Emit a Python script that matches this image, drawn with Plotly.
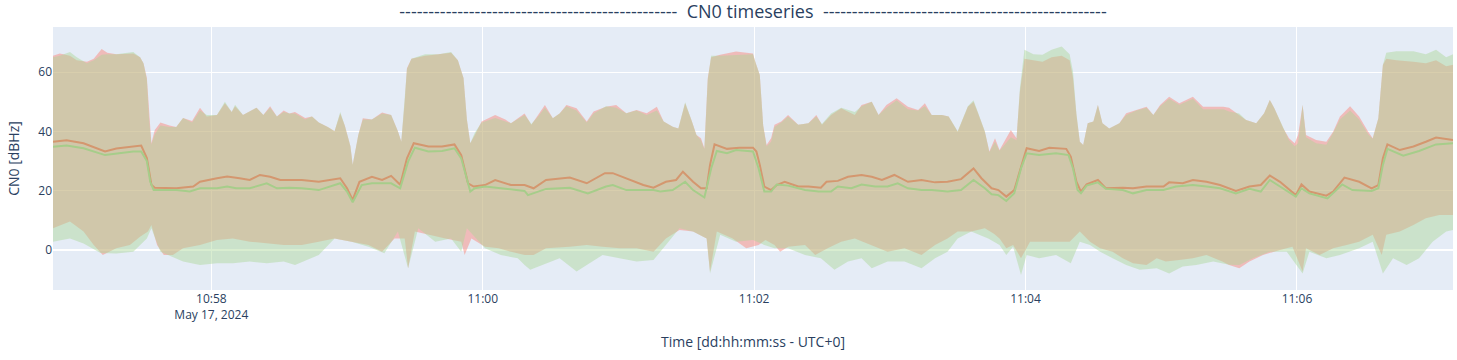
import pandas as pd
import plotly.graph_objects as go

BASE = "2024-05-17 10:56:50"
X_END = "2024-05-17 11:07:09"

# upper envelope: (seconds after BASE, red max, green max)
upper = [
    (0, 65.5, 65.0), (3, 66.3, 65.5), (7.5, 65.5, 66.8), (10.5, 64.0, 65.0), (15, 63.5, 63.0),
    (18, 64.5, 64.0), (21.5, 67.8, 65.8), (24, 66.5, 66.0), (28, 66.0, 66.0), (35.5, 66.3, 66.8),
    (38.5, 65.0, 65.0), (40, 63.0, 63.0), (41.5, 58.0, 57.5), (42.5, 45.0, 44.0), (43.5, 36.0, 35.5),
    (45, 40.5, 39.0), (47.5, 43.0, 42.0), (51.5, 42.0, 41.5), (54.5, 41.5, 41.5), (57.5, 44.5, 44.5),
    (61.5, 43.5, 43.0), (65, 48.0, 47.0), (68, 45.0, 45.5), (72.5, 45.5, 45.5), (76, 49.5, 50.0),
    (79, 46.5, 46.5), (80.5, 48.5, 49.0), (84, 45.5, 45.5), (90, 48.0, 48.0), (93, 45.5, 45.5),
    (96, 48.5, 48.0), (99, 45.0, 45.0), (102, 47.0, 46.5), (104.5, 46.0, 46.0), (107, 46.5, 46.0),
    (111.5, 44.5, 44.0), (114.5, 45.0, 45.0), (117.5, 43.0, 43.0), (121.5, 41.5, 41.5), (124.5, 40.0, 40.0),
    (127, 46.0, 46.5), (129, 42.0, 42.0), (131.5, 35.0, 35.0), (132.5, 28.7, 28.7), (135, 38.8, 38.8),
    (137, 44.4, 44.0), (141, 44.0, 44.0), (145.5, 46.4, 46.0), (149.5, 45.5, 45.5), (152.5, 40.0, 40.0),
    (154, 36.5, 36.5), (155.5, 50.0, 50.0), (156.5, 61.3, 61.0), (158.5, 64.5, 64.5), (164.5, 65.5, 66.0),
    (170.5, 66.0, 66.0), (176, 66.5, 66.8), (179, 64.0, 64.0), (181.5, 58.0, 58.0), (183, 44.0, 44.0),
    (184.5, 36.0, 36.0), (186.5, 38.8, 39.5), (189.5, 43.3, 43.0), (195.5, 45.5, 44.5), (200, 44.0, 43.5),
    (202.5, 42.7, 42.7), (208.5, 46.0, 45.5), (211.5, 42.2, 42.5), (214.5, 45.5, 45.0), (217.5, 48.9, 48.0),
    (221, 44.4, 44.4), (224, 46.0, 46.0), (227, 48.9, 48.5), (231.5, 47.8, 47.0), (236, 43.3, 43.0),
    (239, 46.7, 46.0), (244.5, 48.3, 48.5), (249, 48.9, 48.0), (253.5, 46.1, 46.1), (258, 47.2, 47.0),
    (262.5, 46.1, 45.5), (267, 48.3, 47.0), (270, 43.3, 43.3), (274, 41.6, 41.6), (276.5, 41.0, 41.0),
    (279.5, 49.5, 49.8), (282.5, 43.3, 43.3), (284.5, 38.8, 38.8), (286.5, 37.7, 37.0), (288, 34.3, 34.0),
    (289.5, 57.9, 57.5), (291, 65.0, 65.5), (295, 65.8, 65.5), (302, 66.9, 65.8), (309.5, 66.3, 66.0),
    (310.5, 63.5, 63.5), (312.5, 59.0, 59.0), (314, 42.0, 42.0), (315.5, 35.4, 35.0), (317.5, 37.7, 36.5),
    (319, 42.2, 41.5), (322, 43.3, 43.0), (325, 45.5, 45.0), (329.5, 42.2, 42.2), (334, 42.7, 42.7),
    (337.5, 45.5, 45.0), (340, 42.2, 42.5), (344, 45.5, 46.0), (348.5, 47.8, 48.0), (354.5, 45.5, 46.5),
    (357.5, 48.9, 48.5), (362, 50.0, 50.0), (365, 45.5, 45.5), (368.5, 48.9, 48.0), (373, 51.2, 50.5),
    (378, 48.3, 47.5), (382.5, 47.2, 47.0), (385.5, 49.5, 48.5), (388.5, 45.5, 45.5), (393, 45.5, 45.5),
    (396, 45.0, 45.0), (400, 39.9, 40.0), (404.5, 48.3, 48.5), (407, 50.0, 50.5), (409, 46.1, 46.5),
    (412, 39.9, 40.0), (414, 33.2, 33.0), (416.5, 37.7, 36.5), (418.5, 33.7, 33.5), (421.5, 37.7, 36.0),
    (423.5, 40.5, 38.0), (426, 37.7, 37.0), (427.5, 53.4, 54.5), (429.5, 64.5, 67.5), (433.5, 64.0, 66.0),
    (437.5, 63.5, 65.8), (441.5, 65.0, 67.5), (446, 65.5, 68.6), (449.5, 64.0, 66.0), (451, 58.0, 60.0),
    (452.5, 45.5, 46.0), (454, 36.5, 36.5), (455.5, 35.4, 35.4), (457.5, 42.7, 42.7), (460, 43.3, 43.3),
    (462, 48.9, 48.9), (464, 42.7, 42.7), (467, 41.0, 41.0), (471.5, 42.7, 42.7), (474.5, 46.1, 45.5),
    (479, 47.2, 47.0), (483.5, 48.3, 48.0), (486.5, 45.5, 45.5), (489.5, 48.9, 48.5), (493.5, 51.7, 51.0),
    (498, 49.5, 49.0), (504, 51.7, 51.0), (508.5, 48.3, 47.5), (513, 48.3, 47.5), (517.5, 48.3, 47.5),
    (520, 48.0, 46.7), (524.5, 45.5, 46.0), (527.5, 43.8, 43.8), (532, 42.7, 42.7), (535.5, 46.1, 46.1),
    (538, 50.6, 50.6), (540, 47.8, 47.8), (544, 41.0, 41.0), (546.5, 37.7, 37.0), (549, 36.0, 35.0),
    (550.5, 38.8, 36.0), (552.5, 48.9, 48.9), (554, 38.8, 38.0), (558.5, 37.1, 36.0), (563, 36.5, 35.5),
    (566, 39.9, 39.5), (569, 45.0, 44.0), (573.5, 48.5, 47.0), (577.5, 45.0, 44.0), (581.5, 39.9, 39.0),
    (583.5, 37.7, 37.5), (586, 44.4, 44.4), (588, 62.4, 62.4), (589.5, 64.5, 66.5), (594, 64.0, 67.0),
    (601.5, 63.5, 67.0), (607, 63.0, 66.0), (611.5, 64.0, 67.5), (616, 62.0, 65.0), (619, 62.5, 66.0),
]

red_min = [
    (0, 7.3), (7.5, 9.6), (13.5, 6.2), (18, 1.7), (22, -1.7), (28, 0.6), (34, 1.7), (38.5, 4.5),
    (42, 6.2), (43.5, 8.4), (46, 1.7), (49, -1.7), (53, -1.7), (57.5, 0.6), (65, 1.7), (72.5, 3.4),
    (79.5, 3.9), (87, 2.8), (94.5, 2.2), (102, 1.7), (110, 1.7), (117.5, 2.8), (124.5, 3.9), (132, 2.8),
    (139.5, 1.7), (145.5, -0.6), (151, 3.9), (155.5, 3.9), (157, -6.2), (160, 6.2), (166, 5.1),
    (173.5, 3.9), (180.5, 2.8), (182, -1.7), (185, 3.9), (191, 1.1), (197, 0.6), (202.5, -0.6),
    (208.5, -1.7), (212.5, -1.7), (218, 0.6), (228.5, 1.1), (236, 1.7), (243, 1.1), (250.5, 0.6),
    (258, 0.6), (265.5, -0.6), (271, 3.9), (277, 6.7), (283, 6.2), (289, 3.9), (290.5, -7.3),
    (293.5, 6.2), (300.5, 3.9), (306.5, 0.6), (312, 1.7), (315, 3.4), (319, 1.7), (321.5, -0.6),
    (325, 1.1), (332.5, 1.7), (337, -1.7), (342.5, 0.6), (348.5, 2.8), (354.5, 3.9), (362, 1.7),
    (369, -0.6), (376.5, 0.6), (384, -1.7), (390, 1.7), (395.5, 3.9), (400, 6.2), (406, 6.2),
    (412, 7.3), (416, 5.5), (418.5, 3.9), (421.5, 0.6), (424.5, 1.7), (428, -2.8), (432, 2.8),
    (436, 2.8), (443.5, 2.8), (449.5, 2.8), (454, 6.2), (458.5, 2.8), (463, 0.6), (468.5, -0.6),
    (473, -2.8), (477.5, -4.5), (483.5, -5.1), (488, -2.8), (492, -3.9), (498, -3.4), (504, -2.8),
    (510, -1.7), (517, -3.9), (520, -5.1), (524.5, -6.2), (529, -3.9), (535, -1.7), (542.5, 0.0),
    (548, 1.1), (552.5, -7.3), (554, 0.6), (560, -1.7), (566, 0.6), (572, 1.7), (577.5, 2.8),
    (583.5, 5.1), (587.5, -1.7), (589.5, 5.1), (595.5, 6.2), (601.5, 8.4), (607, 10.7), (613, 11.8),
    (619, 11.8),
]

green_min = [
    (0, 2.8), (7.5, 3.9), (13.5, 2.2), (21, -1.0), (28, -1.2), (35.5, -0.6), (41.5, 3.9), (43.5, 7.3),
    (47.5, -0.6), (57.5, -3.9), (65, -5.1), (72.5, -4.5), (79.5, -4.5), (87, -3.9), (94.5, -4.5),
    (102, -3.9), (107, -5.1), (117.5, -1.7), (124.5, 3.9), (132, 2.8), (139.5, 1.1), (146.5, -1.1),
    (152.5, 6.2), (157, -6.2), (161.5, 7.3), (169, 2.8), (176, 3.9), (180.5, -0.6), (183, 7.3),
    (191, 0.6), (198, -1.7), (205.5, -2.8), (208.5, -5.1), (211, -6.7), (218, -4.5), (224, -2.8),
    (231.5, -7.3), (236, -5.1), (243, -1.7), (250.5, -2.8), (258, -3.9), (265.5, -3.4), (271, 1.7),
    (277, 7.3), (283, 6.2), (289, 3.9), (290.5, -7.9), (295, 5.1), (302, 2.8), (309.5, 3.4),
    (314.5, 1.7), (319, 0.6), (325, 0.6), (332.5, -1.7), (339.5, -2.8), (345.5, -6.7), (351.5, -3.9),
    (357.5, -2.8), (362, -6.2), (369, -3.9), (376.5, -3.9), (384, -6.2), (390, -2.8), (395.5, -0.6),
    (400, 3.9), (406, 6.2), (413.5, 3.9), (418.5, 1.7), (421.5, -1.7), (424.5, 1.1), (428, -8.4),
    (430.5, -1.7), (436, -2.8), (443.5, -1.7), (450, -4.5), (454, 2.8), (458.5, 1.7), (463, -0.6),
    (468.5, -2.8), (474.5, -5.1), (480.5, -6.7), (488, -6.2), (493.5, -7.9), (499.5, -5.6),
    (505.5, -5.1), (513, -3.9), (520, -5.0), (524.5, -5.1), (530.5, -2.8), (538, -0.6), (545.5, -0.6),
    (552.5, -7.9), (555.5, -0.6), (563, -2.8), (569, -1.7), (577.5, 0.6), (583.5, 2.8), (588, -7.9),
    (592.5, -2.8), (598.5, -5.1), (604, -2.8), (610, 2.8), (616, 6.2), (619, 6.7),
]

red_mean = [
    (0, 36.5), (6, 37.0), (13.5, 36.0), (18.5, 34.5), (23, 33.2), (28, 34.2), (35.5, 35.0), (39, 35.2),
    (41.5, 31.0), (43.5, 22.0), (45, 21.0), (54.5, 20.8), (62, 21.4), (65, 23.0), (72.5, 24.2),
    (77, 24.8), (82.5, 24.2), (87, 23.6), (91.5, 25.3), (96, 24.7), (100.5, 23.6), (110, 23.6),
    (117.5, 23.0), (124.5, 24.0), (127, 24.2), (130, 20.8), (132.5, 16.9), (135.5, 23.0), (141, 24.7),
    (145.5, 23.6), (149.5, 25.0), (153.5, 22.0), (156.5, 30.9), (159.5, 36.0), (166, 34.9), (172, 34.9),
    (177.5, 35.6), (180.5, 32.0), (183.5, 22.5), (186, 21.4), (191, 21.9), (195.5, 23.6), (202.5, 21.9),
    (208.5, 21.9), (212.5, 20.8), (218, 23.6), (228.5, 24.4), (236, 22.5), (244, 25.9), (247.5, 25.9),
    (253.5, 24.2), (261, 21.9), (265.5, 21.0), (271, 23.0), (275.5, 23.6), (278.5, 26.4), (283, 23.0),
    (286.5, 20.8), (289, 20.8), (290.5, 28.7), (292.5, 35.6), (298, 34.1), (303.5, 34.5), (309.5, 34.5),
    (311, 33.2), (312.5, 28.7), (314.5, 21.4), (317.5, 20.2), (320, 21.9), (323.5, 23.0), (329.5, 21.4),
    (334, 21.4), (339.5, 21.0), (342, 23.0), (347, 23.3), (351.5, 24.7), (357.5, 25.3), (362, 24.7),
    (366.5, 23.6), (372, 25.3), (378, 23.0), (384, 23.6), (390, 22.8), (395.5, 23.0), (401.5, 23.9),
    (407, 27.5), (410.5, 24.2), (415, 20.8), (418, 20.2), (421.5, 18.0), (425, 20.2), (427.5, 26.4),
    (430.5, 34.3), (436, 33.4), (440.5, 34.5), (448, 34.1), (450, 31.5), (452.5, 23.0), (454.5, 19.7),
    (457, 22.1), (462, 23.6), (465.5, 20.8), (473, 21.0), (477.5, 20.8), (483.5, 21.4), (491, 21.4),
    (493.5, 22.8), (499.5, 22.5), (504, 23.6), (510, 23.0), (516, 21.9), (523, 19.9), (529, 21.4),
    (534, 21.9), (538, 25.1), (542.5, 23.0), (549.5, 18.5), (552, 22.1), (555.5, 19.7), (563, 18.3),
    (566, 19.7), (571, 24.4), (577.5, 23.0), (583, 20.8), (586, 21.9), (588, 30.9), (590, 35.6),
    (595.5, 33.7), (601.5, 34.9), (607, 36.5), (611.5, 37.9), (619, 37.1),
]

green_mean = [
    (0, 34.8), (6, 35.2), (13.5, 34.3), (23, 32.0), (35.5, 33.2), (39, 33.2), (41.5, 30.0), (43, 23.0),
    (44.5, 20.2), (54.5, 20.2), (60.5, 19.7), (65, 20.8), (72.5, 20.8), (77, 21.4), (81, 20.8),
    (87, 20.8), (94.5, 22.5), (99, 20.8), (104.5, 21.0), (110, 20.8), (117.5, 20.2), (127, 22.5),
    (130, 19.7), (132.5, 16.1), (136.5, 21.9), (141, 22.5), (149.5, 22.5), (153.5, 20.8), (157, 29.8),
    (160, 34.5), (166, 33.2), (172, 33.4), (177.5, 34.3), (180.5, 30.9), (184.5, 19.7), (186.5, 20.8),
    (191, 21.4), (198.5, 20.8), (205.5, 20.2), (208.5, 19.9), (210, 18.5), (218, 20.6), (228.5, 21.0),
    (236.5, 19.1), (244.5, 21.4), (247.5, 21.9), (253.5, 20.2), (259.5, 20.2), (265.5, 20.2),
    (268.5, 19.7), (274, 20.2), (279.5, 23.0), (283, 20.2), (288, 17.7), (291, 27.5), (293.5, 33.4),
    (298, 32.6), (302, 33.7), (309.5, 33.2), (312, 27.5), (314.5, 19.7), (317.5, 19.7), (320, 22.1),
    (325, 21.7), (332.5, 20.2), (338.5, 19.7), (344, 19.7), (347, 21.4), (353, 20.8), (357.5, 22.1),
    (363.5, 21.4), (369, 21.4), (373.5, 22.5), (378, 20.8), (384, 20.2), (388.5, 20.2), (395.5, 19.7),
    (401.5, 20.2), (407, 23.6), (412, 20.8), (415, 18.8), (418, 18.5), (421.5, 16.5), (425, 19.1),
    (428, 27.5), (430.5, 32.6), (436, 32.0), (443.5, 32.6), (449, 32.0), (451, 27.5), (453, 20.2),
    (454.5, 19.1), (457, 21.7), (462, 22.8), (465.5, 20.6), (473, 20.2), (477.5, 19.1), (483.5, 20.2),
    (491, 20.2), (496.5, 21.4), (504, 21.9), (510, 21.4), (516, 20.8), (523, 19.1), (529, 20.6),
    (534, 19.7), (538, 23.6), (542.5, 21.4), (549.5, 18.0), (552, 20.8), (555.5, 19.1), (563.5, 17.4),
    (570, 22.1), (574.5, 20.2), (583, 19.9), (586, 20.8), (588, 28.7), (590, 34.1), (597, 31.8),
    (604, 33.4), (611.5, 35.6), (619, 36.0),
]

RED_FILL = "rgba(250,128,114,0.45)"
GREEN_FILL = "rgba(170,215,150,0.45)"
RED_LINE = "#d4976f"
GREEN_LINE = "#a6cd8a"

base = pd.Timestamp(BASE)


def to_time(secs):
    return list(base + pd.to_timedelta(list(secs), unit="s"))


t_up = to_time([p[0] for p in upper])
rmax = [p[1] for p in upper]
gmax = [p[2] for p in upper]


def band(tmax, vmax, pairs_min, color):
    tmin = to_time([p[0] for p in pairs_min])
    vmin = [p[1] for p in pairs_min]
    return go.Scatter(
        x=list(tmax) + tmin[::-1], y=list(vmax) + vmin[::-1],
        fill="toself", fillcolor=color, line=dict(width=0), mode="lines",
        hoverinfo="skip", showlegend=False,
    )


def mean_line(pairs, color):
    return go.Scatter(
        x=to_time([p[0] for p in pairs]), y=[p[1] for p in pairs],
        mode="lines", line=dict(color=color, width=2), showlegend=False,
    )


fig = go.Figure()
fig.add_trace(band(t_up, rmax, red_min, RED_FILL))
fig.add_trace(band(t_up, gmax, green_min, GREEN_FILL))
fig.add_trace(mean_line(red_mean, RED_LINE))
fig.add_trace(mean_line(green_mean, GREEN_LINE))

title = "-" * 48 + "  CN0 timeseries  " + "-" * 49
fig.update_layout(
    width=1457, height=360,
    template="plotly",
    margin=dict(l=53, r=4, t=27, b=70),
    title=dict(text=title, x=0.5, xref="paper", xanchor="center", y=0.967, yanchor="middle",
               font=dict(size=18)),
    xaxis=dict(range=[BASE, X_END], automargin=False,
               title=dict(text="Time [dd:hh:mm:ss - UTC+0]", font=dict(size=14))),
    yaxis=dict(range=[-13.5, 75.2], dtick=20, tick0=0,
               title=dict(text="CN0 [dBHz]", font=dict(size=14))),
    showlegend=False,
)

fig.write_html("out.html", config={"displayModeBar": False},
               post_script="document.body.style.margin='0px';")
